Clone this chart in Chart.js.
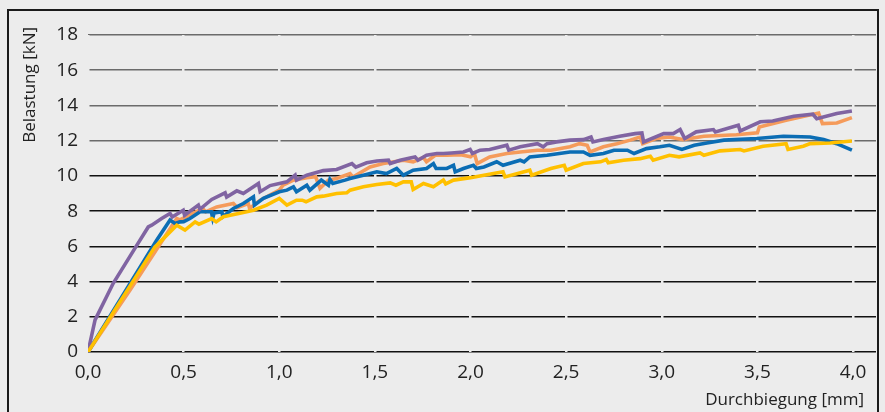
<!DOCTYPE html>
<html>
<head>
<meta charset="utf-8">
<script src="https://cdn.jsdelivr.net/npm/chart.js@4"></script>
<style>
  html, body { margin: 0; padding: 0; background: #ececec; }
  #wrap { position: relative; width: 885px; height: 412px; }
  #frame { position: absolute; left: 7px; top: 9px; width: 868px; height: 420px; border: 2px solid #1a1a1a; }
  canvas { position: absolute; left: 0; top: 0; }
</style>
</head>
<body>
<div id="wrap">
  <div id="frame"></div>
  <canvas id="myChart" width="885" height="412"></canvas>
</div>
<script>
// measured curves: [deflection mm, load kN]
const purplePoints = [[0,0],[0.037,1.82],[0.132,3.9],[0.246,5.9],[0.315,7.1],[0.333,7.2],[0.385,7.58],[0.429,7.87],[0.44,7.67],[0.498,8.05],[0.505,7.77],[0.577,8.34],[0.585,8.1],[0.647,8.66],[0.717,9.04],[0.725,8.8],[0.778,9.15],[0.812,9.0],[0.891,9.57],[0.9,9.1],[0.952,9.45],[1.04,9.66],[1.083,10.04],[1.09,9.76],[1.144,10.04],[1.23,10.3],[1.3,10.36],[1.38,10.7],[1.4,10.5],[1.457,10.74],[1.51,10.85],[1.571,10.89],[1.58,10.7],[1.632,10.89],[1.684,11.02],[1.71,11.08],[1.725,10.89],[1.77,11.17],[1.824,11.27],[1.858,11.27],[1.9,11.3],[1.963,11.36],[1.998,11.5],[2.01,11.27],[2.05,11.46],[2.1,11.5],[2.19,11.74],[2.2,11.46],[2.26,11.65],[2.35,11.83],[2.38,11.65],[2.4,11.83],[2.45,11.93],[2.52,12.03],[2.59,12.06],[2.63,12.21],[2.64,11.93],[2.695,12.06],[2.78,12.25],[2.86,12.4],[2.896,12.44],[2.905,11.93],[3.01,12.4],[3.06,12.4],[3.096,12.63],[3.12,12.12],[3.18,12.5],[3.27,12.63],[3.28,12.5],[3.4,12.88],[3.41,12.55],[3.515,13.07],[3.58,13.12],[3.69,13.39],[3.79,13.5],[3.81,13.25],[3.915,13.54],[3.994,13.69]];
const orangePoints = [[0,0],[0.22,3.52],[0.464,7.58],[0.48,7.5],[0.6,8.15],[0.615,7.96],[0.673,8.24],[0.76,8.43],[0.78,8.2],[0.838,8.43],[0.845,8.15],[0.9,8.62],[1.0,9.19],[1.02,9.47],[1.074,9.76],[1.144,9.9],[1.19,9.95],[1.213,9.3],[1.257,9.76],[1.3,9.85],[1.37,10.13],[1.385,9.94],[1.475,10.51],[1.544,10.7],[1.649,10.89],[1.7,10.8],[1.754,11.04],[1.77,10.8],[1.815,11.17],[1.876,11.17],[1.95,11.2],[2.0,11.08],[2.02,11.27],[2.035,10.7],[2.1,11.08],[2.19,11.27],[2.26,11.36],[2.35,11.46],[2.42,11.46],[2.47,11.55],[2.52,11.65],[2.57,11.83],[2.61,11.74],[2.625,11.36],[2.695,11.65],[2.765,11.83],[2.835,12.03],[2.887,12.21],[2.9,11.83],[2.97,12.12],[3.04,12.21],[3.11,12.06],[3.22,12.25],[3.39,12.34],[3.5,12.44],[3.51,12.78],[3.65,13.16],[3.82,13.57],[3.84,12.97],[3.915,13.0],[3.994,13.31]];
const bluePoints = [[0,0],[0.359,6.35],[0.429,7.49],[0.455,7.3],[0.481,7.39],[0.5,7.4],[0.533,7.58],[0.586,7.96],[0.645,7.96],[0.652,7.6],[0.66,7.9],[0.7,7.96],[0.705,7.68],[0.76,8.15],[0.812,8.43],[0.865,8.81],[0.87,8.34],[0.917,8.72],[1.0,9.1],[1.04,9.19],[1.074,9.38],[1.09,9.1],[1.144,9.47],[1.16,9.19],[1.22,9.76],[1.257,9.47],[1.265,9.8],[1.28,9.57],[1.344,9.76],[1.37,9.85],[1.44,10.04],[1.51,10.23],[1.56,10.13],[1.614,10.42],[1.649,10.04],[1.7,10.32],[1.77,10.42],[1.806,10.7],[1.82,10.42],[1.876,10.42],[1.911,10.6],[1.92,10.23],[1.963,10.42],[2.015,10.6],[2.03,10.42],[2.07,10.51],[2.137,10.8],[2.17,10.6],[2.26,10.89],[2.28,10.8],[2.31,11.08],[2.4,11.17],[2.52,11.36],[2.59,11.36],[2.625,11.17],[2.695,11.27],[2.75,11.46],[2.82,11.46],[2.855,11.27],[2.92,11.55],[2.99,11.65],[3.04,11.74],[3.105,11.5],[3.17,11.74],[3.236,11.87],[3.325,12.03],[3.497,12.12],[3.636,12.25],[3.776,12.21],[3.846,12.06],[3.915,11.83],[3.994,11.46]];
const yellowPoints = [[0,0],[0.35,5.97],[0.36,6.07],[0.429,6.82],[0.464,7.2],[0.507,6.92],[0.56,7.39],[0.58,7.26],[0.647,7.58],[0.67,7.39],[0.708,7.68],[0.83,7.96],[0.865,8.05],[0.934,8.34],[1.0,8.72],[1.04,8.34],[1.09,8.62],[1.12,8.62],[1.14,8.53],[1.196,8.81],[1.23,8.85],[1.3,9.0],[1.353,9.04],[1.37,9.19],[1.44,9.38],[1.51,9.51],[1.58,9.6],[1.61,9.47],[1.649,9.66],[1.69,9.66],[1.7,9.23],[1.754,9.57],[1.806,9.38],[1.858,9.76],[1.87,9.55],[1.911,9.76],[2.0,9.9],[2.07,10.04],[2.17,10.23],[2.18,9.94],[2.31,10.32],[2.32,10.04],[2.42,10.42],[2.49,10.6],[2.5,10.32],[2.59,10.7],[2.68,10.8],[2.71,10.93],[2.72,10.74],[2.8,10.89],[2.887,10.98],[2.94,11.12],[2.955,10.89],[3.04,11.17],[3.09,11.08],[3.2,11.3],[3.22,11.17],[3.305,11.42],[3.41,11.5],[3.43,11.42],[3.53,11.68],[3.65,11.83],[3.66,11.5],[3.74,11.68],[3.776,11.83],[3.88,11.87],[3.994,11.98]];

const xTicks = [0, 0.5, 1, 1.5, 2, 2.5, 3, 3.5, 4];
const yTicks = [0, 2, 4, 6, 8, 10, 12, 14, 16, 18];
const xTitle = "Durchbiegung [mm]";
const yTitle = "Belastung [kN]";

function toXY(points) {
  return points.map((p) => ({ x: p[0], y: p[1] }));
}

function lineSet(label, points, color) {
  return {
    label: label,
    data: toXY(points),
    borderColor: color,
    borderWidth: 3.6,
    pointRadius: 0,
    tension: 0,
    fill: false,
  };
}

// axis titles placed like in the original (y title at the top, x title at the right)
const axisTitles = {
  id: "axisTitles",
  afterDraw(chart) {
    const c = chart.ctx;
    c.save();
    c.fillStyle = "#222";
    c.font = "17px 'Open Sans'";
    c.textBaseline = "middle";
    c.textAlign = "right";
    c.fillText(xTitle, 864, 400);
    c.translate(30, 27);
    c.rotate(-Math.PI / 2);
    c.fillText(yTitle, 0, 0);
    c.restore();
  },
};

const ctx = document.getElementById("myChart").getContext("2d");

new Chart(ctx, {
  type: "line",
  data: {
    datasets: [
      lineSet("Gelb", yellowPoints, "#ffc000"),
      lineSet("Violett", purplePoints, "#8064a2"),
      lineSet("Blau", bluePoints, "#0b6db4"),
      lineSet("Orange", orangePoints, "#f59b5b"),
    ],
  },
  options: {
    responsive: false,
    animation: false,
    layout: { padding: { left: 0, top: 35, right: 9, bottom: 0 } },
    plugins: {
      legend: { display: false },
      tooltip: { enabled: false },
    },
    scales: {
      x: {
        type: "linear",
        min: 0,
        max: 4.12,
        afterBuildTicks: (scale) => {
          scale.ticks = xTicks.map((v) => ({ value: v }));
        },
        afterFit: (scale) => {
          scale.height = 60;
        },
        grid: {
          color: "#ececec", // cuts small gaps into the horizontal lines
          lineWidth: 2.5,
          drawTicks: false,
          z: 0,
        },
        border: { display: false },
        ticks: {
          color: "#222",
          font: { family: "Open Sans", size: 19 },
          padding: 9,
          callback: (value) => value.toFixed(1).replace(".", ","),
        },
      },
      y: {
        min: 0,
        max: 18,
        afterBuildTicks: (scale) => {
          scale.ticks = yTicks.map((v) => ({ value: v }));
        },
        afterFit: (scale) => {
          scale.width = 88;
        },
        grid: {
          color: (c) => (c.tick && c.tick.value >= 12 ? "#6b6b6b" : "#111"),
          lineWidth: 1.6,
          drawTicks: false,
          z: -1,
        },
        border: { display: false },
        ticks: {
          color: "#222",
          font: { family: "Open Sans", size: 19 },
          padding: 10,
        },
      },
    },
  },
  plugins: [axisTitles],
});
</script>
</body>
</html>
